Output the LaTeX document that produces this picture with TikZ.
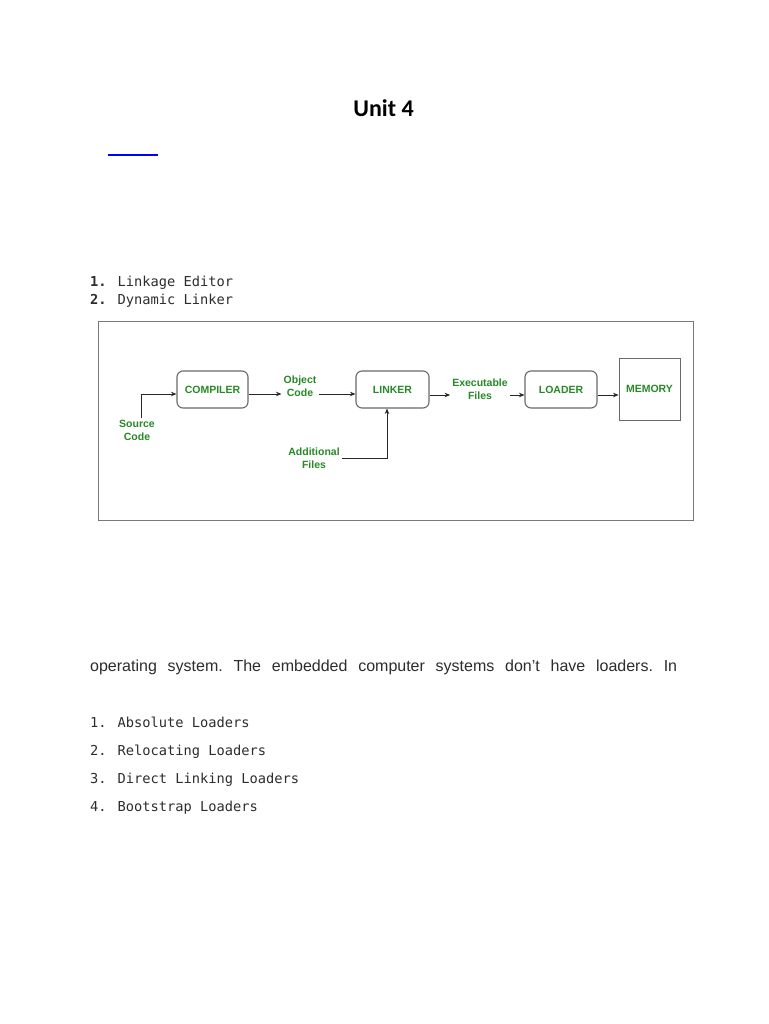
\documentclass[tikz,border=0pt]{standalone}
\usepackage{fontspec}
\setmainfont{Liberation Sans}
\newfontfamily\titlefont{Carlito}
\newfontfamily\monofont{DejaVu Sans Mono}
\usetikzlibrary{arrows.meta}
\definecolor{dgreen}{RGB}{38,138,38}
\definecolor{boxgray}{RGB}{105,105,105}
\definecolor{txtgray}{RGB}{45,45,45}
\definecolor{framegray}{RGB}{120,120,120}
\tikzset{
  blk/.style={draw=boxgray, line width=1.1pt, rounded corners=6pt, inner sep=0pt,
    minimum height=37pt, font=\fontsize{10.5}{13}\selectfont\bfseries, text=dgreen},
  memblk/.style={draw=boxgray, line width=0.9pt, inner sep=0pt, minimum width=61pt,
    minimum height=62pt, font=\fontsize{10.5}{13}\selectfont\bfseries, text=dgreen},
  lbl/.style={font=\fontsize{10.5}{13}\selectfont\bfseries, text=dgreen, align=center, inner sep=2pt},
  arr/.style={-{Stealth[length=5.5pt,width=4.5pt]}, line width=0.8pt, draw=black!85},
  monoline/.style={anchor=base west, inner sep=0pt, font=\monofont\fontsize{13.7}{16}\selectfont, text=txtgray}
}
\begin{document}
\begin{tikzpicture}[x=1pt,y=-1pt]
\useasboundingbox[fill=white] (0,0) rectangle (768,1024);
% title
\node[anchor=base, inner sep=0pt, font=\titlefont\bfseries\fontsize{24}{28}\selectfont] (title) at (383.5,116.5) {Unit 4};
% blue link line
\coordinate (bl1) at (108,155);
\coordinate (bl2) at (158,155);
\draw[blue, line width=2pt] (bl1) -- (bl2);
% first list
\node[monoline] (l1) at (90,286.5) {\textbf{1.} Linkage Editor};
\node[monoline] (l2) at (90,304) {\textbf{2.} Dynamic Linker};
% diagram frame
\node[draw=framegray, line width=0.9pt, minimum width=595pt, minimum height=199pt, inner sep=0pt] (frame) at (395.5,420.5) {};
% blocks
\node[blk, minimum width=71pt] (compiler) at (212.5,389.5) {COMPILER};
\node[blk, minimum width=73pt] (linker) at (392.5,389.5) {LINKER};
\node[blk, minimum width=72pt] (loader) at (561,389.5) {LOADER};
\node[memblk] (memory) at (649.5,389) {MEMORY};
% labels
\node[lbl] (objcode) at (300,386.5) {Object\\Code};
\node[lbl] (exefiles) at (480,389.5) {Executable\\Files};
\node[lbl] (srccode) at (137,430) {Source\\Code};
\node[lbl] (addfiles) at (314,458) {Additional\\Files};
% arrow levels
\coordinate (ya) at (0,394);
\coordinate (yb) at (0,395);
\draw[arr] ([xshift=4pt]srccode.north) |- (compiler.west |- ya);
\draw[arr] (compiler.east |- ya) -- (objcode.west |- ya);
\draw[arr] (objcode.east |- ya) -- (linker.west |- ya);
\draw[arr] (linker.east |- yb) -- (exefiles.west |- yb);
\draw[arr] (exefiles.east |- yb) -- (loader.west |- yb);
\draw[arr] (loader.east |- yb) -- (memory.west |- yb);
\draw[arr] (addfiles.east) -| ([xshift=-5.5pt]linker.south);
% paragraph
\node[anchor=base west, inner sep=0pt, text=txtgray, font=\fontsize{16}{19}\selectfont] (para) at (90,671.5)
  {\hbox to 587pt{operating\hfill system.\hfill The\hfill embedded\hfill computer\hfill systems\hfill don’t\hfill have\hfill loaders.\hfill In}};
% second list
\node[monoline] (m1) at (90,727.5) {1. Absolute Loaders};
\node[monoline] (m2) at (90,755.5) {2. Relocating Loaders};
\node[monoline] (m3) at (90,783.5) {3. Direct Linking Loaders};
\node[monoline] (m4) at (90,811.5) {4. Bootstrap Loaders};
\end{tikzpicture}
\end{document}
